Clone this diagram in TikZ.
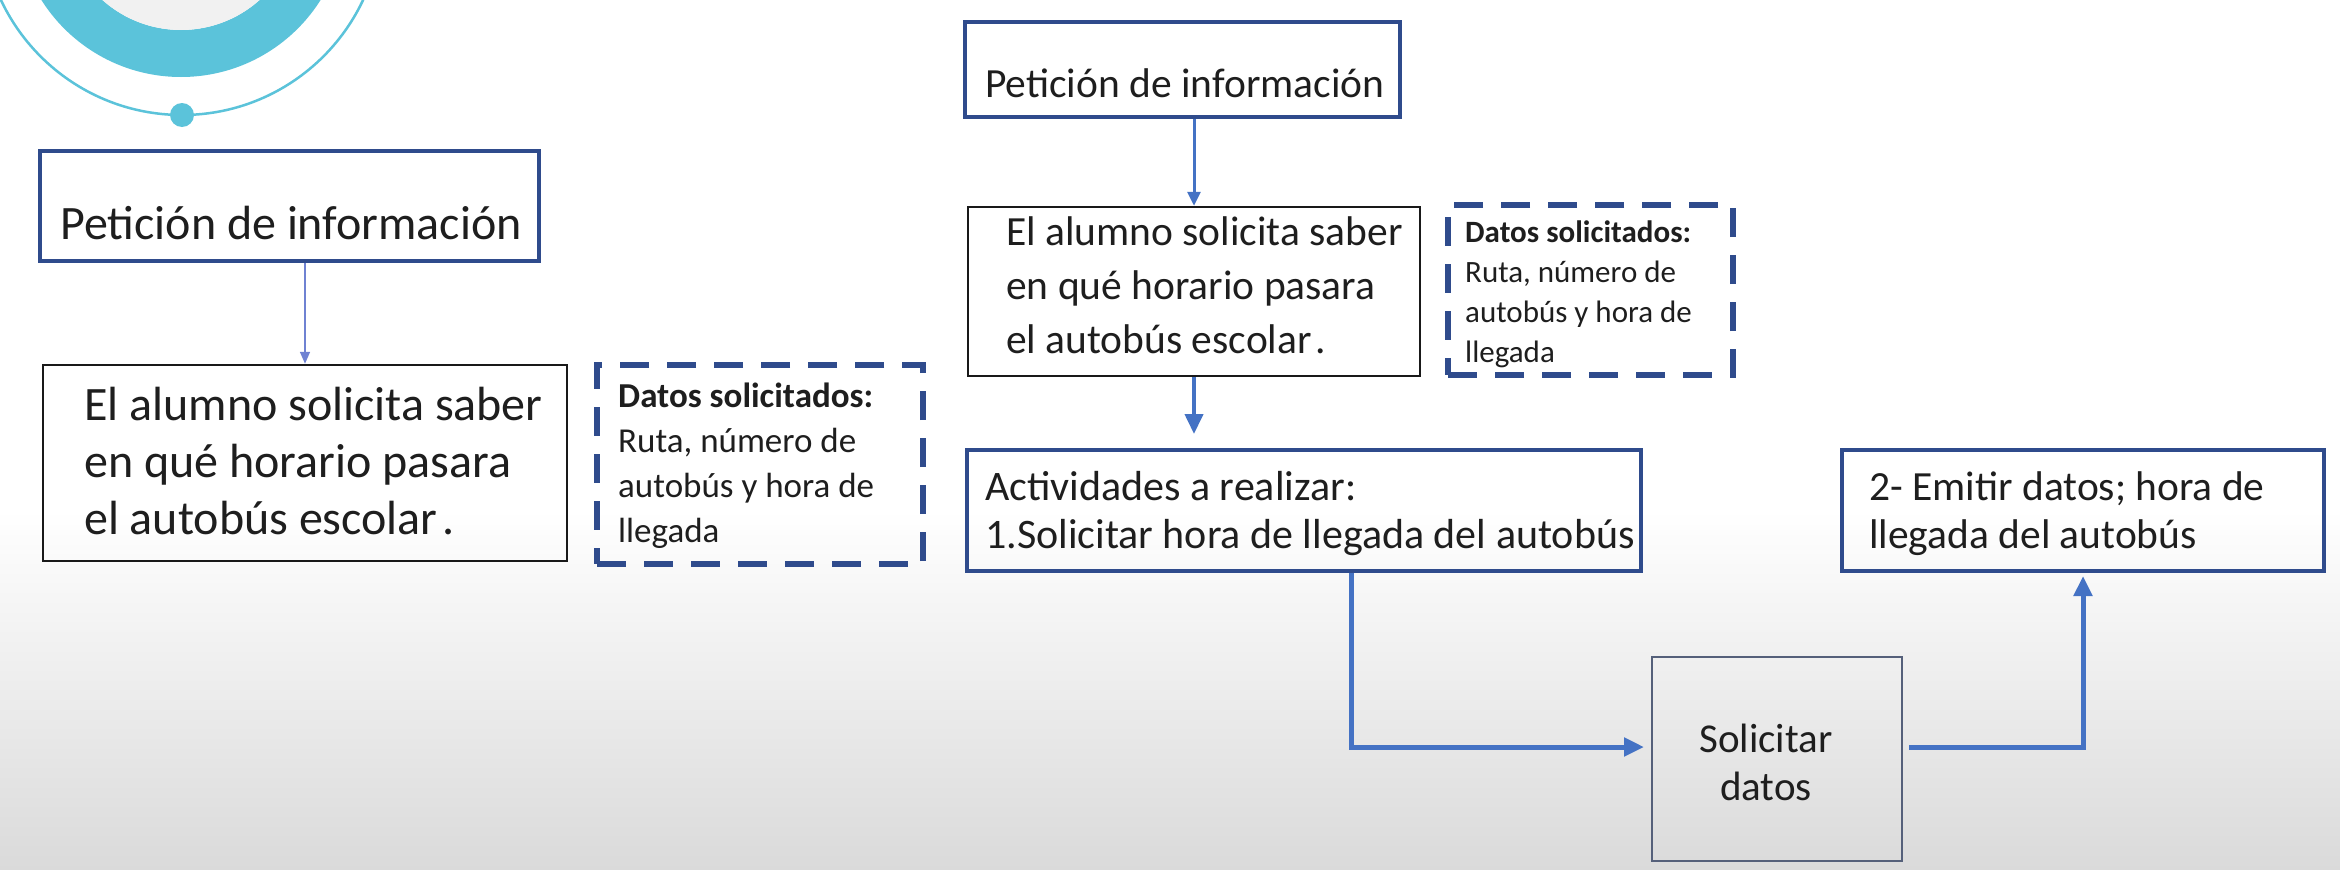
\documentclass[tikz,border=0pt]{standalone}
\usepackage{fontspec}
\setmainfont{Carlito}
\usetikzlibrary{arrows.meta}
\definecolor{navy}{HTML}{2F4B8C}
\definecolor{arrblue}{HTML}{4472C4}
\definecolor{thinblue}{HTML}{6F82D2}
\definecolor{cyanring}{HTML}{5BC3DA}
\definecolor{txtc}{HTML}{1E1E1E}
\definecolor{bggray}{HTML}{DADADA}
\definecolor{sgray}{HTML}{55607A}
\definecolor{diskgray}{HTML}{F1F1F1}
\newcommand{\fs}[2]{\fontsize{#1}{#2}\selectfont}
\begin{document}
\begin{tikzpicture}[x=1pt,y=-1pt,
  boxbase/.style={rectangle, inner sep=0pt},
  navybox/.style={boxbase, draw=navy, line width=4pt},
  blackbox/.style={boxbase, draw=black!90, line width=2.5pt},
  dashbox/.style={boxbase, draw=navy, line width=5.5pt, dash pattern=on 29pt off 18pt},
  graybox/.style={boxbase, draw=sgray, line width=2pt},
  txt/.style={inner sep=0pt, text=txtc, anchor=base west},
  conn/.style={draw=arrblue, line width=5pt, -{Triangle[length=20pt,width=18pt]}},
  midconn/.style={draw=arrblue, line width=3pt, -{Triangle[length=14pt,width=13pt]}},
  thinconn/.style={draw=thinblue, line width=1.6pt, -{Triangle[length=12pt,width=10pt]}}
]
\useasboundingbox (0,0) rectangle (2340,870);
% background
\fill[white] (0,0) rectangle (2340,870);
\shade[top color=white, bottom color=bggray] (0,510) rectangle (2340,870);
% decorative circle
\begin{scope}
\clip (0,0) rectangle (2340,870);
\fill[cyanring, even odd rule] (181,-88) circle[radius=165pt] circle[radius=118pt];
\fill[diskgray] (181,-88) circle[radius=118pt];
\draw[cyanring, line width=2.5pt] (182,-85) circle[radius=200pt];
\fill[cyanring] (182,115) circle[radius=12pt];
\end{scope}

% left column
\node[navybox, minimum width=499pt, minimum height=110pt] (L1) at (289.5,206) {};
\node[txt] (L1t) at (60,239) {\fs{48}{58}Petición de información};
\node[blackbox, minimum width=524pt, minimum height=196pt] (L2) at (305,463) {};
\node[txt] (L2t) at (84,420) {\parbox[t]{480pt}{\fs{48}{57}\raggedright El alumno solicita saber\\ en qué horario pasara\\ el autobús escolar\kern5pt.}};
\node[dashbox, minimum width=326pt, minimum height=199pt] (L3) at (760,464.5) {};
\node[txt] (L3t) at (618,407) {\parbox[t]{300pt}{\fs{35}{45}\raggedright\textbf{Datos solicitados:}\\ Ruta, número de\\ autobús y hora de\\ llegada}};

% middle column
\node[navybox, minimum width=435pt, minimum height=95pt] (M1) at (1182.5,69.5) {};
\node[txt] (M1t) at (985,97) {\fs{41.5}{50}Petición de información};
\node[blackbox, minimum width=452pt, minimum height=169pt] (M2) at (1194,291.5) {};
\node[txt] (M2t) at (1006,245) {\parbox[t]{420pt}{\fs{41.5}{54}\raggedright El alumno solicita saber\\ en qué horario pasara\\ el autobús escolar\kern4pt.}};
\node[dashbox, minimum width=285pt, minimum height=170pt] (M3) at (1590.5,290) {};
\node[txt] (M3t) at (1465,242) {\parbox[t]{270pt}{\fs{31}{40}\raggedright\textbf{Datos solicitados:}\\ Ruta, número de\\ autobús y hora de\\ llegada}};
\node[navybox, minimum width=674pt, minimum height=121pt] (M4) at (1304,510.5) {};
\node[txt] (M4t) at (985,500) {\parbox[t]{680pt}{\fs{42}{48}\raggedright Actividades a realizar:\\ 1.Solicitar hora de llegada del autobús}};

% right side
\node[navybox, minimum width=482pt, minimum height=121pt] (R1) at (2083,510.5) {};
\node[txt] (R1t) at (1869,500) {\parbox[t]{450pt}{\fs{41.5}{48}\raggedright 2- Emitir datos; hora de\\ llegada del autobús}};
\node[graybox, minimum width=250pt, minimum height=204pt] (S) at (1777,759) {};
\node[inner sep=0pt, text=txtc, anchor=base] (St) at (1766,752) {\parbox[t]{220pt}{\fs{41}{48}\centering Solicitar\\ datos}};

% connectors
\draw[thinconn] (L2.north |- L1.south) -- (L2.north);
\draw[midconn] (M2.north |- M1.south) -- (M2.north);
\draw[conn, line width=4pt, shorten >=14pt] (M2.south) -- (M2.south |- M4.north);
\draw[conn] ([xshift=47pt]M4.south) |- ([xshift=-7pt,yshift=12pt]S.west);
\draw[conn] ([xshift=6pt,yshift=12pt]S.east) -| ([yshift=-3pt]R1.south);
\end{tikzpicture}
\end{document}
